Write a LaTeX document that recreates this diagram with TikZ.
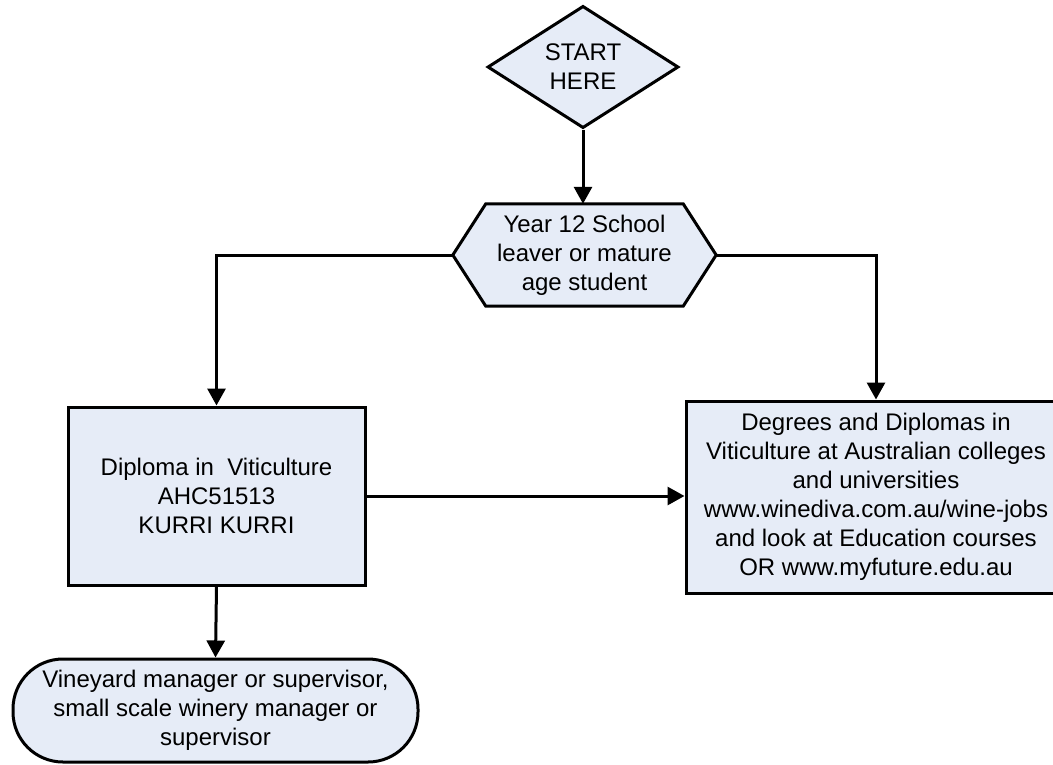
\documentclass[tikz,border=0pt]{standalone}
\usepackage{fontspec}
\setmainfont{Liberation Sans}
\usetikzlibrary{shapes.geometric,arrows.meta,backgrounds}
\definecolor{boxfill}{RGB}{230,236,247}
\begin{document}
\begin{tikzpicture}[x=1pt,y=-1pt,
  every node/.style={font=\fontsize{24}{29}\selectfont, align=center, inner sep=0pt},
  shapebox/.style={draw, fill=boxfill, line width=3pt, line join=miter},
  conn/.style={line width=3pt, -{Triangle[length=17pt,width=18pt]}},
]
\clip (0,0) rectangle (1053,764);
\node[shapebox, diamond, minimum width=191pt, minimum height=121pt] (start) at (583,67) {START\\HERE};
\node[minimum width=263pt, minimum height=102pt] (hex) at (584.5,255) {Year 12 School\\leaver or mature\\age student};
\begin{scope}[on background layer]
\draw[shapebox] (hex.west) -- ([xshift=33pt]hex.north west) -- ([xshift=-33pt]hex.north east) -- (hex.east) -- ([xshift=-33pt]hex.south east) -- ([xshift=33pt]hex.south west) -- cycle;
\end{scope}
\node[shapebox, minimum width=297pt, minimum height=178pt] (dip) at (216.5,496) {Diploma in\ \ Viticulture\\AHC51513\\KURRI KURRI};
\node[shapebox, minimum width=380pt, minimum height=192pt] (deg) at (876,497) {Degrees and Diplomas in\\Viticulture at Australian colleges\\and universities\\www.winediva.com.au/wine-jobs\\and look at Education courses\\OR www.myfuture.edu.au};
\node[shapebox, rounded corners=50pt, minimum width=405pt, minimum height=103pt] (job) at (215.5,710.5) {Vineyard manager or supervisor,\\small scale winery manager or\\supervisor};
\draw[conn] (start.south) -- (start.south |- hex.north);
\draw[conn] (hex.west) -| (dip.north);
\draw[conn] (hex.east) -| (deg.north);
\draw[conn] (dip.east) -- (dip.east -| deg.west);
\draw[conn] (dip.south) -- (job.north);
\end{tikzpicture}
\end{document}
